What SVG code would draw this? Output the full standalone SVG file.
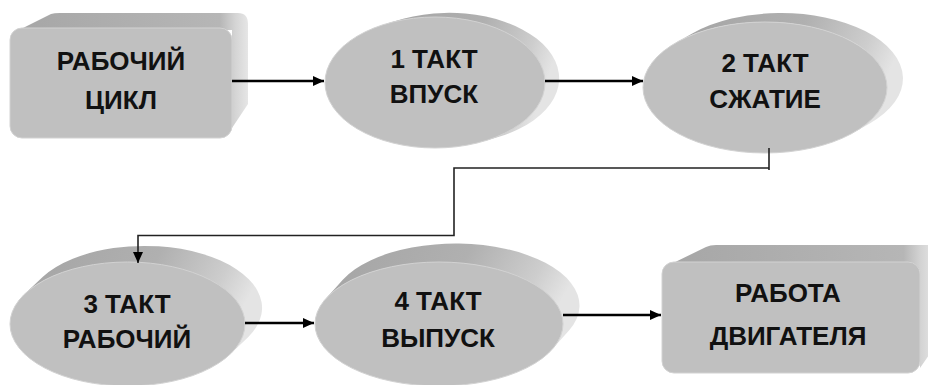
<svg xmlns="http://www.w3.org/2000/svg" width="928" height="385" viewBox="0 0 928 385">
<defs>
<linearGradient id="gEll" x1="0" y1="0" x2="1" y2="0.25">
<stop offset="0" stop-color="#a4a4a4"/>
<stop offset="0.55" stop-color="#b0b0b0"/>
<stop offset="0.85" stop-color="#cdcdcd"/>
<stop offset="1" stop-color="#e4e4e4"/>
</linearGradient>
<linearGradient id="gBox" x1="0" y1="0" x2="1" y2="0">
<stop offset="0" stop-color="#a6a6a6"/>
<stop offset="0.88" stop-color="#b6b6b6"/>
<stop offset="0.945" stop-color="#d4d4d4"/>
<stop offset="1" stop-color="#e6e6e6"/>
</linearGradient>
<marker id="arr" markerUnits="userSpaceOnUse" markerWidth="11" markerHeight="10" refX="11" refY="5" orient="auto">
<path d="M0,0 L11,5 L0,10 Z" fill="#000"/>
</marker>
</defs>
<style>
.ext-e{fill:url(#gEll);}
.ext-b{fill:url(#gBox);}
.face{fill:#c0c0c0;stroke:#d2d2d2;stroke-width:1;}
.lbl{font-family:"Liberation Sans","DejaVu Sans",sans-serif;font-weight:bold;font-size:26px;fill:#111;text-anchor:middle;}
.conn{fill:none;stroke:#000;stroke-width:2.3;}
.elbow{fill:none;stroke:#222;stroke-width:1.6;}
</style>
<rect width="928" height="385" fill="#fff"/>

<g id="node-cycle">
<path class="ext-b" d="M13,33 L51,14 Q54,13 60,13 L238,13 Q248,13 248,24 L248,104 L232,128 L232,30 Z"/>
<rect class="face" x="10" y="28" width="222" height="110" rx="12"/>
<text class="lbl" x="121" y="70">РАБОЧИЙ</text>
<text class="lbl" x="121" y="109">ЦИКЛ</text>
</g>

<g id="node-t1">
<path class="ext-e" d="M386.3,23.8 L403.3,18.8 A110 65.5 0 0 1 500.7,136.2 L483.7,141.2 A110 65.5 0 0 0 386.3,23.8 Z"/>
<ellipse class="face" cx="435" cy="82.5" rx="110" ry="65.5"/>
<text class="lbl" x="434" y="68">1 ТАКТ</text>
<text class="lbl" x="434" y="103">ВПУСК</text>
</g>

<g id="node-t2">
<path class="ext-e" d="M676.7,42.3 L692.7,33.3 A122 65.5 0 0 1 869.3,123.7 L853.3,132.7 A122 65.5 0 0 0 676.7,42.3 Z"/>
<ellipse class="face" cx="765" cy="87.5" rx="122" ry="65.5"/>
<text class="lbl" x="765" y="72">2 ТАКТ</text>
<text class="lbl" x="765" y="108">СЖАТИЕ</text>
</g>

<g id="node-t3">
<path class="ext-e" d="M24.9,293.8 L42.9,276.8 A117.5 62 0 0 1 248.1,337.2 L230.1,354.2 A117.5 62 0 0 0 24.9,293.8 Z"/>
<ellipse class="face" cx="127.5" cy="324" rx="117.5" ry="62"/>
<text class="lbl" x="127" y="313">3 ТАКТ</text>
<text class="lbl" x="127" y="348">РАБОЧИЙ</text>
</g>

<g id="node-t4">
<path class="ext-e" d="M325.8,298.7 L342.8,279.7 A124 62 0 0 1 569.2,330.3 L552.2,349.3 A124 62 0 0 0 325.8,298.7 Z"/>
<ellipse class="face" cx="439" cy="324" rx="124" ry="62"/>
<text class="lbl" x="438" y="310">4 ТАКТ</text>
<text class="lbl" x="438" y="347">ВЫПУСК</text>
</g>

<g id="node-engine">
<path class="ext-b" d="M665,267 L706,247 Q710,245 716,245 L926,245 Q936,245 936,256 L936,345 L920,368 L920,270 Z"/>
<rect class="face" x="662" y="262" width="258" height="111" rx="12"/>
<text class="lbl" x="788" y="302">РАБОТА</text>
<text class="lbl" x="788" y="345">ДВИГАТЕЛЯ</text>
</g>

<g id="connectors">
<path class="conn" d="M232,81 L324,81" marker-end="url(#arr)"/>
<path class="conn" d="M545,81 L643,81" marker-end="url(#arr)"/>
<path class="elbow" d="M769,148 L769,170 M769,168 L454,168 L454,235.5 L138,235.5 L138,263" marker-end="url(#arr)"/>
<path class="conn" d="M245,323 L314,323" marker-end="url(#arr)"/>
<path class="conn" d="M563,315 L661,315" marker-end="url(#arr)"/>
</g>
</svg>
